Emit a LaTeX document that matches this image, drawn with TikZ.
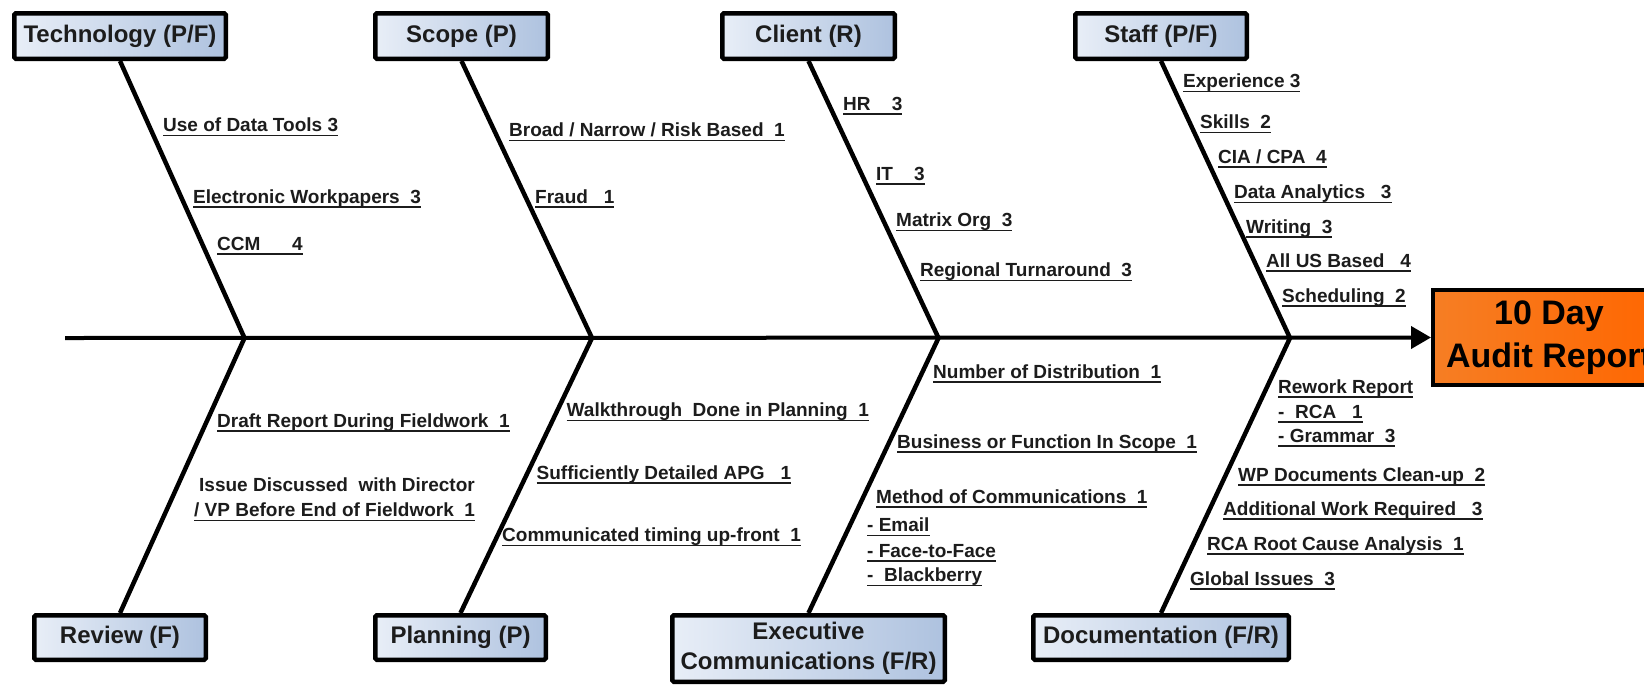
\documentclass[tikz,border=0pt]{standalone}
\usepackage{fontspec}
\setmainfont{Liberation Sans}
\usetikzlibrary{arrows.meta}

\definecolor{ink}{RGB}{28,28,28}
\definecolor{boxL}{RGB}{232,238,247}
\definecolor{boxR}{RGB}{174,194,223}
\definecolor{goalL}{RGB}{246,126,36}
\definecolor{goalR}{RGB}{255,102,0}

% underlined cause label
\newcommand\ulbl[1]{\sbox0{#1}\rlap{\rule[-4.6pt]{\wd0}{1.5pt}}\usebox0}

\tikzset{
  catbox/.style={draw=black, line width=4.5pt, rounded corners=1.5pt,
    left color=boxL, right color=boxR, inner sep=0pt, text=ink,
    font=\fontsize{24}{30}\selectfont\bfseries, align=center},
  goalbox/.style={draw=black, line width=4pt, left color=goalL, right color=goalR,
    inner sep=0pt, text=black, font=\fontsize{34}{43}\selectfont\bfseries, align=center},
  bone/.style={draw=black, line width=4.5pt, line join=miter},
  spine/.style={draw=black, line width=4pt, -{Triangle[length=20pt,width=22pt]}},
  lbl/.style={anchor=base west, inner sep=0pt, text=ink,
    font=\fontsize{19}{23}\selectfont\bfseries},
}

\begin{document}
\begin{tikzpicture}[x=1pt, y=-1pt]
\useasboundingbox (0,0) rectangle (1644,686);
\clip (0,0) rectangle (1644,686);
\fill[white] (0,0) rectangle (1644,686);

% effect box
\node[goalbox, minimum width=232pt, minimum height=95pt] (goal) at (1549,337.5) {10 Day\\Audit Report};

% category boxes, top row
\node[catbox, minimum width=211.5pt, minimum height=45.5pt] (tech)   at (120,36)    {Technology (P/F)};
\node[catbox, minimum width=172.5pt, minimum height=45.5pt] (scope)  at (461.5,36)  {Scope (P)};
\node[catbox, minimum width=172.5pt, minimum height=45.5pt] (client) at (808.5,36)  {Client (R)};
\node[catbox, minimum width=171.5pt, minimum height=45.5pt] (staff)  at (1161,36)   {Staff (P/F)};

% category boxes, bottom row
\node[catbox, minimum width=171.5pt, minimum height=44.5pt] (review) at (120,637.5)  {Review (F)};
\node[catbox, minimum width=170.5pt, minimum height=44.5pt] (plan)   at (460.5,637.5){Planning (P)};
\node[catbox, minimum width=272.5pt, minimum height=66.5pt] (exec)   at (808.5,648.5){Executive\\Communications (F/R)};
\node[catbox, minimum width=255.5pt, minimum height=44.5pt] (doc)    at (1161,637.5) {Documentation (F/R)};

% spine and bones
\coordinate (tail) at (65,338);
\coordinate (j1) at (244.5,338);
\coordinate (j2) at (592,338);
\coordinate (j3) at (938.5,338);
\coordinate (j4) at (1290,338);
\draw[spine] (tail) -- (goal.west);
\draw[bone] (tech.south)   -- (j1) -- (review.north);
\draw[bone] (scope.south)  -- (j2) -- (plan.north);
\draw[bone] (client.south) -- (j3) -- (exec.north);
\draw[bone] (staff.south)  -- (j4) -- (doc.north);

% Technology
\node[lbl] (t1) at (163,131.5) {\ulbl{Use of Data Tools 3}};
\node[lbl] (t2) at (193,203)   {\ulbl{Electronic Workpapers~~3}};
\node[lbl] (t3) at (217,250)   {\ulbl{CCM~~~~~~4}};

% Scope
\node[lbl] (s1) at (509,136.5) {\ulbl{Broad / Narrow / Risk Based~~1}};
\node[lbl] (s2) at (535,203)   {\ulbl{Fraud~~~1}};

% Client
\node[lbl] (c1) at (843,110)   {\ulbl{HR~~~~3}};
\node[lbl] (c2) at (876,180)   {\ulbl{IT~~~~3}};
\node[lbl] (c3) at (896,226.5) {\ulbl{Matrix Org~~3}};
\node[lbl] (c4) at (920,276.5) {\ulbl{Regional Turnaround~~3}};

% Staff
\node[lbl] (f1) at (1183,87.5)  {\ulbl{Experience 3}};
\node[lbl] (f2) at (1200,128.5) {\ulbl{Skills~~2}};
\node[lbl] (f3) at (1218,163)   {\ulbl{CIA / CPA~~4}};
\node[lbl] (f4) at (1234,198.5) {\ulbl{Data Analytics~~~3}};
\node[lbl] (f5) at (1246,233)   {\ulbl{Writing~~3}};
\node[lbl] (f6) at (1266,267)   {\ulbl{All US Based~~~4}};
\node[lbl] (f7) at (1282,302)   {\ulbl{Scheduling~~2}};

% Review
\node[lbl] (r1)  at (217,427)   {\ulbl{Draft Report During Fieldwork~~1}};
\node[lbl] (r2a) at (199,491.5) {Issue Discussed~~with Director};
\node[lbl] (r2b) at (194,516.5) {\ulbl{/ VP Before End of Fieldwork~~1}};

% Planning
\node[lbl] (p1) at (566.5,416.5) {\ulbl{Walkthrough~~Done in Planning~~1}};
\node[lbl] (p2) at (536.5,479)   {\ulbl{Sufficiently Detailed APG~~~1}};
\node[lbl] (p3) at (502,541.5)   {\ulbl{Communicated timing up-front~~1}};

% Executive Communications
\node[lbl] (e1) at (933,378)   {\ulbl{Number of Distribution~~1}};
\node[lbl] (e2) at (897,448)   {\ulbl{Business or Function In Scope~~1}};
\node[lbl] (e3) at (876,503)   {\ulbl{Method of Communications~~1}};
\node[lbl] (e4) at (867,531.5) {\ulbl{- Email}};
\node[lbl] (e5) at (867,557)   {\ulbl{- Face-to-Face}};
\node[lbl] (e6) at (867,581.5) {\ulbl{-~~Blackberry}};

% Documentation
\node[lbl] (d1) at (1278,393) {\ulbl{Rework Report}};
\node[lbl] (d2) at (1278,418) {\ulbl{-~~RCA~~~1}};
\node[lbl] (d3) at (1278,442) {\ulbl{- Grammar~~3}};
\node[lbl] (d4) at (1238,481) {\ulbl{WP Documents Clean-up~~2}};
\node[lbl] (d5) at (1223,515) {\ulbl{Additional Work Required~~~3}};
\node[lbl] (d6) at (1207,550) {\ulbl{RCA Root Cause Analysis~~1}};
\node[lbl] (d7) at (1190,585) {\ulbl{Global Issues~~3}};
\end{tikzpicture}
\end{document}
